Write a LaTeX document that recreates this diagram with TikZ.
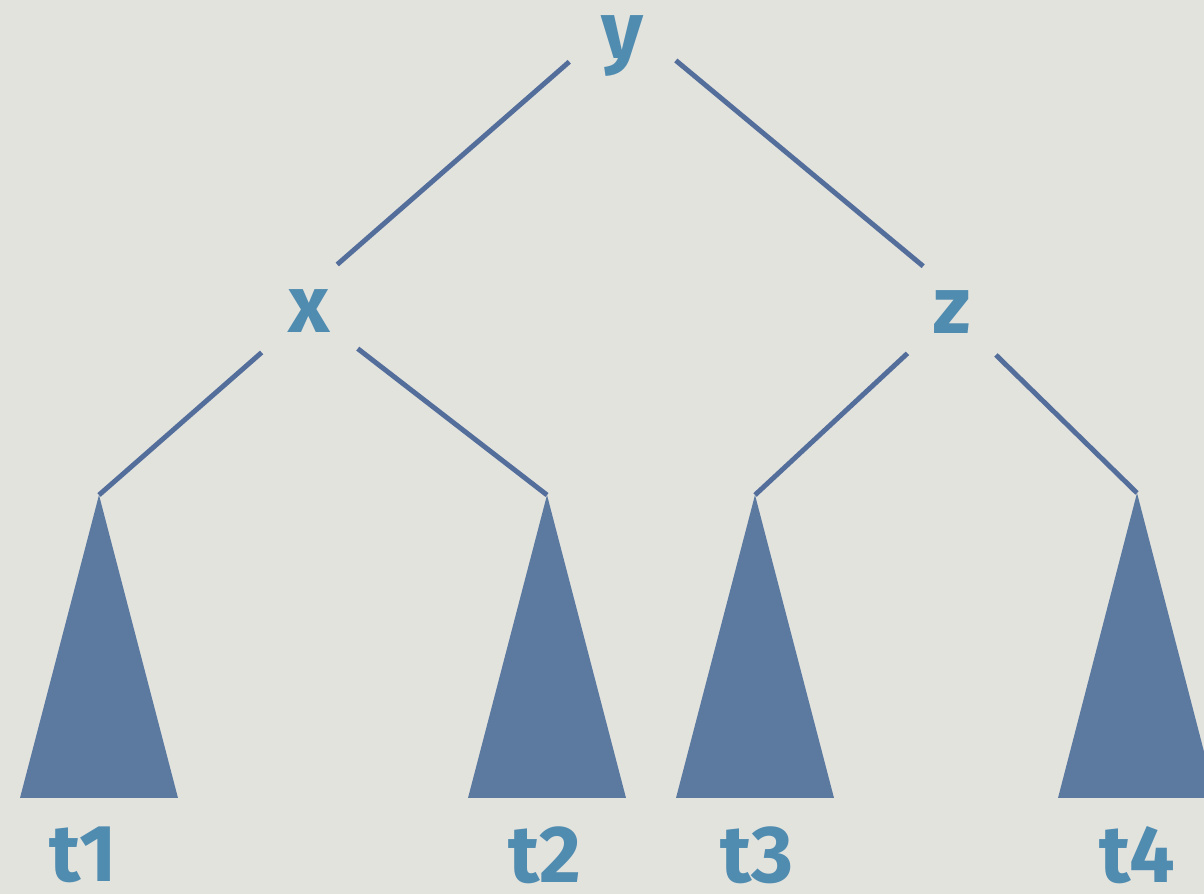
\documentclass[tikz,border=0pt]{standalone}
\usepackage{fontspec}
\setmainfont{Fira Sans}
\usetikzlibrary{positioning}
\definecolor{paper}{RGB}{227,227,222}
\definecolor{edgeblue}{RGB}{84,110,155}
\definecolor{treeblue}{RGB}{92,122,160}
\definecolor{labelblue}{RGB}{80,140,176}

\begin{document}
\begin{tikzpicture}[
    key/.style={font=\fontsize{46}{50}\selectfont\bfseries, text=labelblue, inner sep=0pt},
    link/.style={draw=edgeblue, line width=2.8pt},
    uplink/.style={link, shorten <=1.4cm, shorten >=0.75cm},
    downlink/.style={link, shorten <=0.7cm},
    tree/.style={fill=treeblue}
]
\fill[paper] (0,0) rectangle (24.08,17.88);
\useasboundingbox (0,0) rectangle (24.08,17.88);

\node[key] (y) at (12.44,16.95) {y};
\node[key] (x) at (6.18,11.66) {x};
\node[key] (z) at (19.04,11.64) {z};

\coordinate (a1) at (1.98,7.98);
\coordinate (a2) at (10.94,7.98);
\coordinate (a3) at (15.10,7.98);
\coordinate (a4) at (22.74,8.02);

\fill[tree] (a1) -- ++(-1.58,-6.06) -- ++(3.16,0) -- cycle;
\fill[tree] (a2) -- ++(-1.58,-6.06) -- ++(3.16,0) -- cycle;
\fill[tree] (a3) -- ++(-1.58,-6.06) -- ++(3.16,0) -- cycle;
\fill[tree] (a4) -- ++(-1.58,-6.10) -- ++(3.16,0) -- cycle;

\node[key] (t1) at (1.66,0.78) {t1};
\node[key] (t2) at (10.90,0.78) {t2};
\node[key] (t3) at (15.14,0.78) {t3};
\node[key] (t4) at (22.74,0.78) {t4};

\draw[uplink] (y.north) -- (x.north);
\draw[uplink] (y.north) -- (z.north);
\draw[downlink] (x) -- (a1);
\draw[downlink] (x) -- (a2);
\draw[downlink] (z) -- (a3);
\draw[downlink] (z) -- (a4);
\end{tikzpicture}
\end{document}
